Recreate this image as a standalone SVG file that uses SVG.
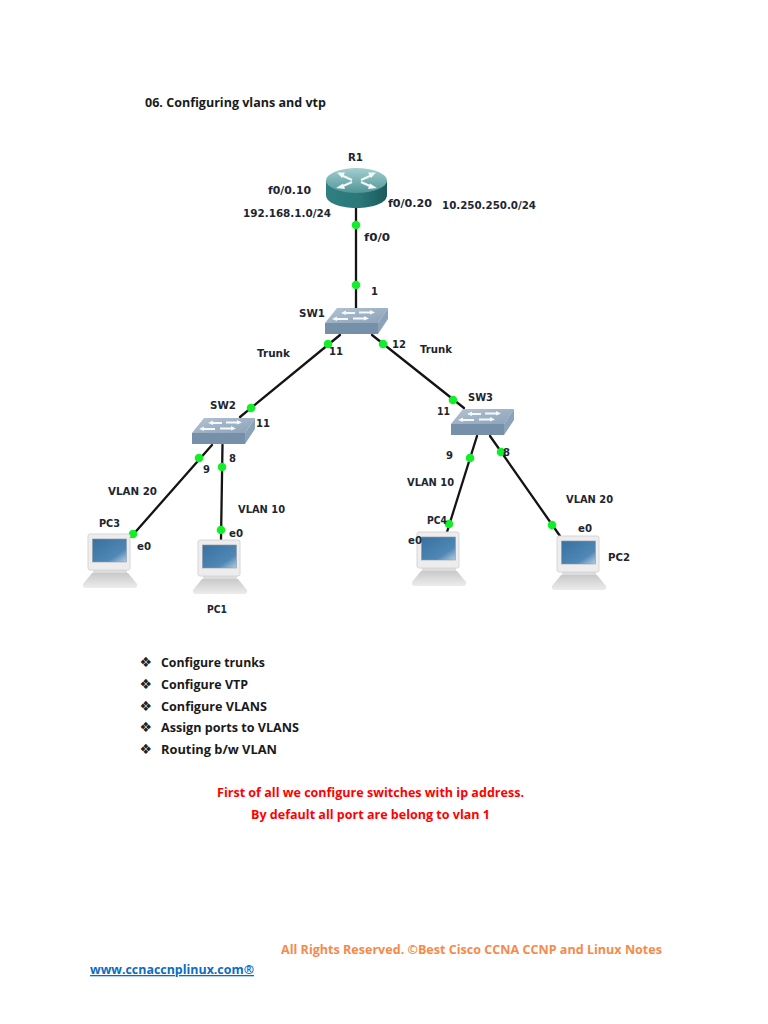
<svg xmlns="http://www.w3.org/2000/svg" width="768" height="1024" viewBox="0 0 768 1024">
<style>
.doc{font-family:"Open Sans","Liberation Sans",sans-serif;font-weight:700;font-size:13px;fill:#1a1a1a}
.lb{font-family:"DejaVu Sans","Liberation Sans",sans-serif;font-weight:700;font-size:10px;fill:#1d2530}
.link{stroke:#141414;stroke-width:2.300;fill:none;stroke-linecap:round}
.dot{fill:#12ee2a}
.bl{font-family:"DejaVu Sans",sans-serif;font-size:14px;fill:#222}
</style>
<defs>
<linearGradient id="rt" x1="0" y1="0" x2="0" y2="1"><stop offset="0" stop-color="#a4cfd0"/><stop offset="1" stop-color="#4f9597"/></linearGradient>
<linearGradient id="rf" x1="0" y1="0" x2="1" y2="0"><stop offset="0" stop-color="#2f7f81"/><stop offset=".55" stop-color="#2b7779"/><stop offset="1" stop-color="#1c5a5c"/></linearGradient>
<linearGradient id="st" x1="0" y1="0" x2="1" y2="1"><stop offset="0" stop-color="#b3c3d2"/><stop offset="1" stop-color="#8ba2b8"/></linearGradient>
<linearGradient id="sc" x1="0" y1="0" x2="1" y2="1"><stop offset="0" stop-color="#38709f"/><stop offset=".7" stop-color="#4f87b5"/><stop offset="1" stop-color="#b6cfe0"/></linearGradient>
<linearGradient id="pb" x1="0" y1="0" x2="0" y2="1"><stop offset="0" stop-color="#c9c9c9"/><stop offset="1" stop-color="#ececec"/></linearGradient>
<g id="sw">
<path d="M12 0H63L53 15H0Z" fill="url(#st)"/>
<path d="M0 15H53V26H0Z" fill="#7690aa"/>
<path d="M53 15L63 0V11L53 26Z" fill="#8ba3b8"/>
<path d="M19 5H30M34 4.500H47M10 11H23M28 10.500H41" stroke="#f6f9fb" stroke-width="1.800" fill="none"/>
<path d="M21 2.500L16 5L21 7ZM45 2L50 4.500L45 6.500ZM12 8.500L7 11L12 13ZM39 8L44 10.500L39 12.500Z" fill="#f6f9fb"/>
</g>
<g id="pc">
<path d="M11 34H45V40H11Z" fill="#dcdcdc"/>
<path d="M10 39H46L55 50Q56 54 52 54H4Q0 54 1 50Z" fill="url(#pb)"/>
<rect x="6" y="0" width="42" height="36" rx="2" fill="#ededed" stroke="#d6d6d6"/>
<rect x="10.500" y="5" width="34" height="23" fill="url(#sc)" stroke="#8d9aa5" stroke-width=".6"/>
</g>
</defs>
<rect width="768" height="1024" fill="#ffffff"/>

<text class="doc" x="145" y="107" textLength="181" lengthAdjust="spacingAndGlyphs">06. Configuring vlans and vtp</text>

<g id="connectors">
<path class="link" d="M356 208V308"/>
<path class="link" d="M340 335L240 417"/>
<path class="link" d="M372 335L464 408"/>
<path class="link" d="M212 445L131 537"/>
<path class="link" d="M222.500 445L221 540"/>
<path class="link" d="M477 436L447 532"/>
<path class="link" d="M490 436L560 536"/>
<g id="ports">
<circle class="dot" cx="356" cy="225" r="4.300"/><circle class="dot" cx="356" cy="285" r="4.300"/>
<circle class="dot" cx="328" cy="344" r="4.300"/><circle class="dot" cx="251" cy="408" r="4.300"/>
<circle class="dot" cx="383" cy="344" r="4.300"/><circle class="dot" cx="453" cy="400" r="4.300"/>
<circle class="dot" cx="199" cy="458" r="4.300"/><circle class="dot" cx="133" cy="534" r="4.300"/>
<circle class="dot" cx="222" cy="467" r="4.300"/><circle class="dot" cx="221" cy="530" r="4.300"/>
<circle class="dot" cx="470" cy="458" r="4.300"/><circle class="dot" cx="449" cy="524" r="4.300"/>
<circle class="dot" cx="501" cy="452" r="4.300"/><circle class="dot" cx="552" cy="525" r="4.300"/>
</g>
</g>

<g id="R1">
<path d="M326 181V195C326 203 340 208 356.500 208S387 203 387 195V181Z" fill="url(#rf)"/>
<ellipse cx="356.500" cy="180.500" rx="30.500" ry="12.500" fill="url(#rt)"/>
<path d="M352 180L342 175.500M361 180L371 175.500M352 182L342 186.500M361 182L371 186.500" stroke="#f3f8f8" stroke-width="2.200" fill="none"/>
<path d="M337 172.500L345 172.500L342 178ZM376 172.500L368 172.500L371 178ZM336 188L343 183.500L345 189ZM377 188L370 183.500L368 189Z" fill="#f3f8f8"/>
<text class="lb" x="348" y="161" textLength="15" lengthAdjust="spacingAndGlyphs">R1</text>
</g>
<g id="SW1"><use href="#sw" x="325" y="308"/><text class="lb" x="299" y="317" textLength="26" lengthAdjust="spacingAndGlyphs">SW1</text></g>
<g id="SW2"><use href="#sw" x="192" y="418"/><text class="lb" x="210" y="409" textLength="26" lengthAdjust="spacingAndGlyphs">SW2</text></g>
<g id="SW3"><use href="#sw" x="451" y="409"/><text class="lb" x="468" y="401" textLength="25" lengthAdjust="spacingAndGlyphs">SW3</text></g>
<g id="PC3"><use href="#pc" x="82" y="534"/><text class="lb" x="99" y="527" textLength="21" lengthAdjust="spacingAndGlyphs">PC3</text></g>
<g id="PC1"><use href="#pc" x="192" y="540"/><text class="lb" x="207" y="613" textLength="20" lengthAdjust="spacingAndGlyphs">PC1</text></g>
<g id="PC4"><use href="#pc" x="411" y="532"/><text class="lb" x="427" y="524" textLength="20" lengthAdjust="spacingAndGlyphs">PC4</text></g>
<g id="PC2"><use href="#pc" x="551" y="536"/><text class="lb" x="608" y="561" textLength="22" lengthAdjust="spacingAndGlyphs">PC2</text></g>

<g id="labels">
<text class="lb" x="268" y="194" textLength="43" lengthAdjust="spacingAndGlyphs">f0/0.10</text>
<text class="lb" x="243" y="217" textLength="88" lengthAdjust="spacingAndGlyphs">192.168.1.0/24</text>
<text class="lb" x="388" y="207" textLength="44" lengthAdjust="spacingAndGlyphs">f0/0.20</text>
<text class="lb" x="442" y="209" textLength="94" lengthAdjust="spacingAndGlyphs">10.250.250.0/24</text>
<text class="lb" x="364" y="241" textLength="26" lengthAdjust="spacingAndGlyphs">f0/0</text>
<text class="lb" x="371" y="295" textLength="7" lengthAdjust="spacingAndGlyphs">1</text>
<text class="lb" x="257" y="357" textLength="33" lengthAdjust="spacingAndGlyphs">Trunk</text>
<text class="lb" x="329" y="355" textLength="14" lengthAdjust="spacingAndGlyphs">11</text>
<text class="lb" x="392" y="348" textLength="14" lengthAdjust="spacingAndGlyphs">12</text>
<text class="lb" x="420" y="353" textLength="32" lengthAdjust="spacingAndGlyphs">Trunk</text>
<text class="lb" x="256" y="427" textLength="14" lengthAdjust="spacingAndGlyphs">11</text>
<text class="lb" x="203" y="473">9</text>
<text class="lb" x="229" y="462">8</text>
<text class="lb" x="108" y="495" textLength="49" lengthAdjust="spacingAndGlyphs">VLAN 20</text>
<text class="lb" x="238" y="513" textLength="47" lengthAdjust="spacingAndGlyphs">VLAN 10</text>
<text class="lb" x="137" y="550" textLength="14" lengthAdjust="spacingAndGlyphs">e0</text>
<text class="lb" x="229" y="537" textLength="14" lengthAdjust="spacingAndGlyphs">e0</text>
<text class="lb" x="437" y="415" textLength="13" lengthAdjust="spacingAndGlyphs">11</text>
<text class="lb" x="446" y="459">9</text>
<text class="lb" x="503" y="456">8</text>
<text class="lb" x="407" y="486" textLength="47" lengthAdjust="spacingAndGlyphs">VLAN 10</text>
<text class="lb" x="566" y="503" textLength="47" lengthAdjust="spacingAndGlyphs">VLAN 20</text>
<text class="lb" x="408" y="544" textLength="14" lengthAdjust="spacingAndGlyphs">e0</text>
<text class="lb" x="578" y="532" textLength="14" lengthAdjust="spacingAndGlyphs">e0</text>
</g>

<g id="list">
<text class="bl" x="139.500" y="667">❖</text><text class="doc" x="161" y="667" textLength="104" lengthAdjust="spacingAndGlyphs">Configure trunks</text>
<text class="bl" x="139.500" y="689">❖</text><text class="doc" x="161" y="689" textLength="87" lengthAdjust="spacingAndGlyphs">Configure VTP</text>
<text class="bl" x="139.500" y="711">❖</text><text class="doc" x="161" y="711" textLength="106" lengthAdjust="spacingAndGlyphs">Configure VLANS</text>
<text class="bl" x="139.500" y="732">❖</text><text class="doc" x="161" y="732" textLength="138" lengthAdjust="spacingAndGlyphs">Assign ports to VLANS</text>
<text class="bl" x="139.500" y="754">❖</text><text class="doc" x="161" y="754" textLength="116" lengthAdjust="spacingAndGlyphs">Routing b/w VLAN</text>
</g>

<text class="doc" x="217" y="797" textLength="307" lengthAdjust="spacingAndGlyphs" style="fill:#ff0000">First of all we configure switches with ip address.</text>
<text class="doc" x="251" y="819" textLength="239" lengthAdjust="spacingAndGlyphs" style="fill:#ff0000">By default all port are belong to vlan 1</text>
<text class="doc" x="281" y="954" textLength="381" lengthAdjust="spacingAndGlyphs" style="fill:#f58a4b">All Rights Reserved. ©Best Cisco CCNA CCNP and Linux Notes</text>
<text class="doc" x="90" y="974" textLength="164" lengthAdjust="spacingAndGlyphs" style="fill:#0b6cc4;text-decoration:underline">www.ccnaccnplinux.com®</text>
</svg>
